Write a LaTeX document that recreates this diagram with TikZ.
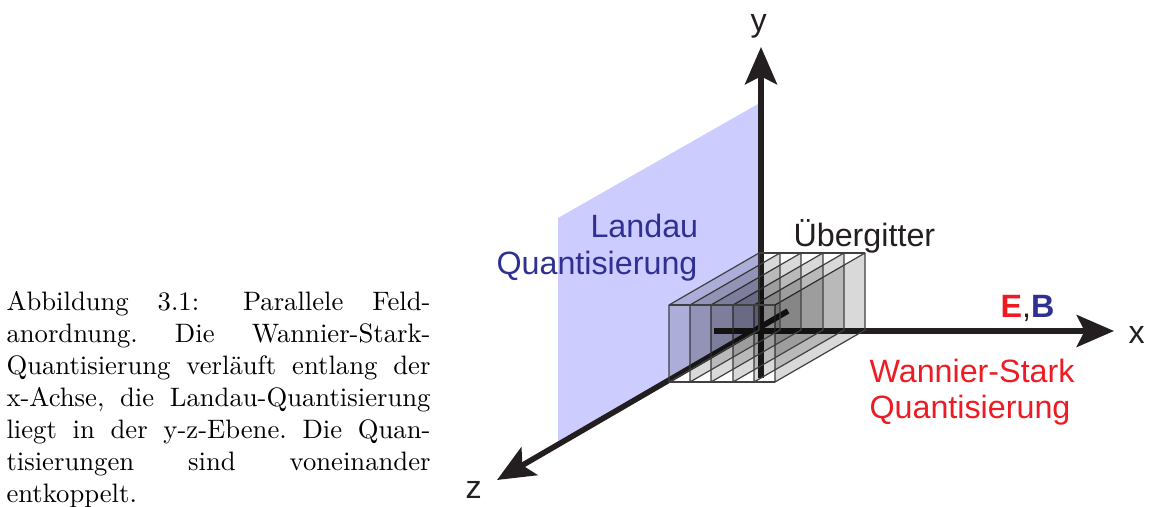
\documentclass[tikz,border=0pt]{standalone}
\usepackage{fontspec}
\newfontfamily\figsans{Liberation Sans}
\usetikzlibrary{arrows.meta}
\definecolor{SoftLilac}{HTML}{CCCCFF}
\definecolor{AxisBlack}{HTML}{231F20}
\definecolor{QuantBlue}{HTML}{2E3192}
\definecolor{QuantRed}{HTML}{ED1C24}
\begin{document}
\begin{tikzpicture}[x=0.375pt,y=-0.375pt]
\tikzstyle{axis}=[draw=AxisBlack,line width=2.1pt,-{Stealth[length=14pt,width=12pt,inset=3pt]}]
\tikzstyle{plate}=[draw=black!75,line width=0.45pt,fill=black,fill opacity=0.15,line join=round]
\tikzstyle{lbl}=[inner sep=0pt,anchor=base west,font=\figsans\fontsize{12.1}{14}\selectfont]
\useasboundingbox (0,0) rectangle (1154,507);
% plane
\fill[SoftLilac] (558,218) -- (758,104) -- (758,330) -- (558,441) -- cycle;
% axes
\coordinate (ybot) at (761,378);
\coordinate (ytip) at (761,47);
\coordinate (xbot) at (714,331);
\coordinate (xtip) at (1114,331);
\coordinate (zbot) at (788,311);
\coordinate (ztip) at (497,480);
\draw[axis] (ybot)--(ytip);
\draw[axis] (xbot)--(xtip);
\draw[axis] (zbot)--(ztip);
% plates
\draw[plate] (775,382)--(775,305)--(865,253)--(865,330)--cycle;
\draw[plate] (754,382)--(754,305)--(844,253)--(844,330)--cycle;
\draw[plate] (733,382)--(733,305)--(823,253)--(823,330)--cycle;
\draw[plate] (711,382)--(711,305)--(801,253)--(801,330)--cycle;
\draw[plate] (690,382)--(690,305)--(780,253)--(780,330)--cycle;
\draw[plate] (669,382)--(669,305)--(759,253)--(759,330)--cycle;
\draw[draw=black!75,line width=0.45pt] (669,305)--(775,305) (669,382)--(775,382) (759,253)--(865,253);
% labels
\node[lbl,text=AxisBlack] (ylbl) at (750,32) {y};
\node[lbl,text=AxisBlack] (xlbl) at (1128,344) {x};
\node[lbl,text=AxisBlack] (zlbl) at (465,499) {z};
\node[lbl,text=AxisBlack] (gitter) at (793,247) {Übergitter};
\node[lbl,text=QuantBlue] (landau) at (590,238) {Landau};
\node[lbl,text=QuantBlue] (landauq) at (496,275) {Quantisierung};
\node[lbl,text=QuantRed] (eb) at (1000,318) {\textbf{E}\textcolor{AxisBlack}{,}\textcolor{QuantBlue}{\textbf{B}}};
\node[lbl,text=QuantRed] (ws) at (869,383) {Wannier-Stark};
\node[lbl,text=QuantRed] (wsq) at (869,419) {Quantisierung};
% caption
\node[inner sep=0pt,anchor=north west,text width=159pt,align=justify,font=\fontsize{10}{12}\selectfont\frenchspacing] (cap) at (6,291)
{Abbildung 3.1:\hspace{5.6pt} Parallele Feld-\linebreak anordnung. Die Wannier-Stark-\linebreak Quantisierung verläuft entlang der\linebreak x-Achse, die Landau-Quantisierung\linebreak liegt in der y-z-Ebene. Die Quan-\linebreak tisierungen sind voneinander\linebreak entkoppelt.};
\end{tikzpicture}
\end{document}
